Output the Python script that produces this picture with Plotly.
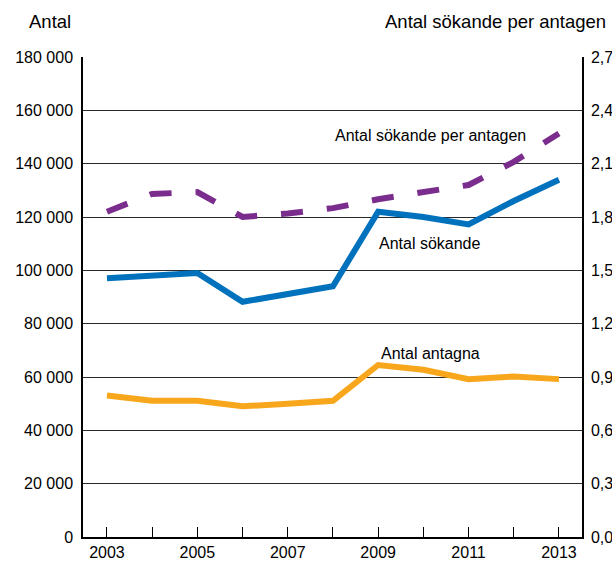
import plotly.graph_objects as go

years = [2003, 2004, 2005, 2006, 2007, 2008, 2009, 2010, 2011, 2012, 2013]
sokande = [97000, 98000, 99000, 88200, 91000, 94000, 122000, 120000, 117200, 126000, 134000]
antagna = [53100, 51100, 51100, 49000, 50000, 51100, 64500, 62700, 59200, 60200, 59200]
per_antagen = [1.83, 1.93, 1.94, 1.80, 1.82, 1.85, 1.90, 1.94, 1.98, 2.11, 2.27]
year_labels = [str(y) if y % 2 == 1 else "" for y in years]
left_ticks = [0, 20000, 40000, 60000, 80000, 100000, 120000, 140000, 160000, 180000]
right_ticks = [0, 0.3, 0.6, 0.9, 1.2, 1.5, 1.8, 2.1, 2.4, 2.7]

FONT = "Liberation Sans, Arial, sans-serif"
BLUE = "#0071bc"
ORANGE = "#f8a61c"
PURPLE = "#7b2d8e"

fig = go.Figure()
fig.add_trace(go.Scatter(x=years, y=antagna, mode="lines",
                         line=dict(color=ORANGE, width=6), name="Antal antagna"))
fig.add_trace(go.Scatter(x=years, y=sokande, mode="lines",
                         line=dict(color=BLUE, width=6), name="Antal sökande"))
fig.add_trace(go.Scatter(x=years, y=per_antagen, mode="lines", yaxis="y2",
                         line=dict(color=PURPLE, width=6, dash="22px,24px"),
                         name="Antal sökande per antagen"))

fig.update_layout(
    width=612, height=562,
    margin=dict(l=83, r=30, t=57, b=25),
    paper_bgcolor="white", plot_bgcolor="white",
    showlegend=False,
    separators=", ",
    font=dict(family=FONT, size=16, color="black"),
    xaxis=dict(range=[2002.47, 2013.51], tickvals=years, ticktext=year_labels,
               ticks="inside", ticklen=10, tickcolor="black", tickwidth=1,
               showline=True, linecolor="black", linewidth=1.5,
               showgrid=False, zeroline=False, automargin=False,
               ticklabelstandoff=0, tickfont=dict(size=16)),
    yaxis=dict(range=[0, 180000], tickvals=left_ticks, tickformat=",d",
               showgrid=True, gridcolor="#2a2a2a", gridwidth=1,
               showline=True, linecolor="black", linewidth=1.5,
               zeroline=False, ticks="", ticklabelstandoff=5,
               automargin=False, tickfont=dict(size=16)),
    yaxis2=dict(range=[0, 2.7], tickvals=right_ticks, tickformat=".1f",
                overlaying="y", side="right", showgrid=False,
                showline=True, linecolor="black", linewidth=1.5,
                zeroline=False, ticks="", ticklabelstandoff=4,
                automargin=False, tickfont=dict(size=16)),
    annotations=[
        dict(text="Antal", xref="paper", yref="paper", x=0, y=1.0,
             xshift=-10, yshift=36, xanchor="right", yanchor="middle", showarrow=False,
             font=dict(size=18.5)),
        dict(text="Antal sökande per antagen", xref="paper", yref="paper",
             x=1.0, y=1.0, xshift=26, yshift=36, xanchor="right", yanchor="middle",
             showarrow=False, font=dict(size=18.5)),
        dict(text="Antal sökande per antagen", x=2010.15, y=150400,
             showarrow=False, xanchor="center", yanchor="middle"),
        dict(text="Antal sökande", x=2010.15, y=110250,
             showarrow=False, xanchor="center", yanchor="middle"),
        dict(text="Antal antagna", x=2010.15, y=69000,
             showarrow=False, xanchor="center", yanchor="middle"),
    ],
)

fig.write_html("out.html",
               config={"displayModeBar": False},
               post_script="document.body.style.margin='0';document.body.style.overflow='hidden';")
